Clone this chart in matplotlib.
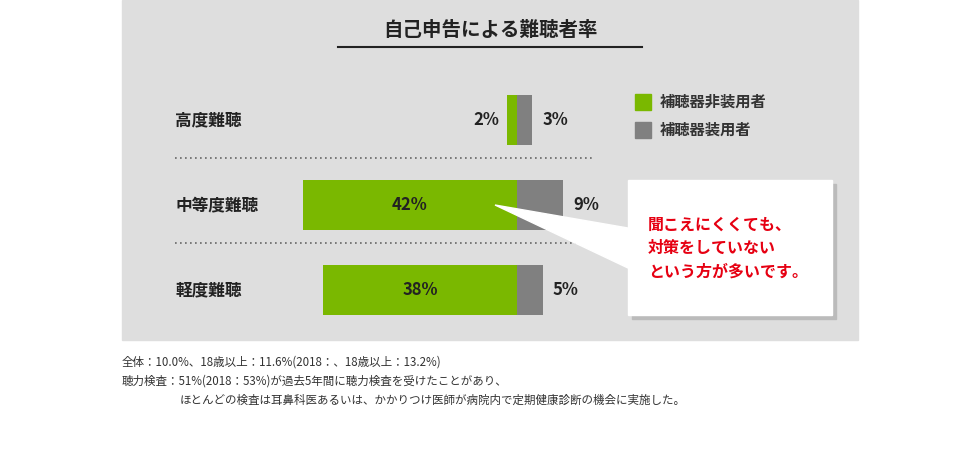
import matplotlib
matplotlib.use("Agg")
import matplotlib.pyplot as plt
from matplotlib.patches import Rectangle, Polygon

plt.rcParams['font.family'] = 'Noto Sans CJK JP'

categories = ["高度難聴", "中等度難聴", "軽度難聴"]
non_users = [2, 42, 38]
users = [3, 9, 5]
legend_labels = ["補聴器非装用者", "補聴器装用者"]
title = "自己申告による難聴者率"
callout = "聞こえにくくても、\n対策をしていない\nという方が多いです。"
notes = ["全体：10.0%、18歳以上：11.6%(2018：、18歳以上：13.2%)",
         "聴力検査：51%(2018：53%)が過去5年間に聴力検査を受けたことがあり、",
         "ほとんどの検査は耳鼻科医あるいは、かかりつけ医師が病院内で定期健康診断の機会に実施した。"]

GREEN = "#7ab800"; GREY = "#808080"; PANEL = "#dedede"; RED = "#e60012"

fig = plt.figure(figsize=(9.8, 4.51), dpi=100)
bg = fig.add_axes([0, 0, 1, 1])
bg.set_xlim(0, 980); bg.set_ylim(451, 0); bg.axis('off')
bg.add_patch(Rectangle((122, 0), 736, 340, color=PANEL, zorder=0))
bg.text(490, 30, title, ha='center', va='center', fontsize=14, fontweight='bold', color='#222222')
bg.plot([338, 642], [47, 47], color='#222222', lw=1.5)
for y in (158, 243):
    bg.plot([175, 595], [y, y], color='#666666', lw=1.2, ls=(0, (1, 2)))
for i, (lab, c) in enumerate(zip(legend_labels, [GREEN, GREY])):
    y = 102 + i * 28
    bg.add_patch(Rectangle((635, y - 8), 16, 16, color=c))
    bg.text(660, y, lab, ha='left', va='center', fontsize=11, fontweight='bold', color='#333333')
bg.text(122, 362, notes[0], ha='left', va='center', fontsize=8.3, color='#333333')
bg.text(122, 381, notes[1], ha='left', va='center', fontsize=8.3, color='#333333')
bg.text(180, 400, notes[2], ha='left', va='center', fontsize=8.3, color='#333333')

ax = fig.add_axes([122/980, 111/451, 736/980, 340/451])
ax.patch.set_alpha(0)
px = 5.1
ax.set_xlim(-(517-122)/px, (858-517)/px)
ax.set_ylim(2 + 50/85, -120/85)
ax.axis('off')
ypos = list(range(len(categories)))
ax.barh(ypos, [-v for v in non_users], height=50/85, color=GREEN, zorder=2)
ax.barh(ypos, users, height=50/85, color=GREY, zorder=2)
for y, cat, n, u in zip(ypos, categories, non_users, users):
    ax.text(-(517-175)/px, y, cat, ha='left', va='center', fontsize=12, fontweight='bold', color='#222222')
    if n < 10:
        ax.text(-n - 1.5, y, f"{n}%", ha='right', va='center', fontsize=12, fontweight='bold', color='#222222')
    else:
        ax.text(-n / 2, y, f"{n}%", ha='center', va='center', fontsize=12, fontweight='bold', color='#222222')
    ax.text(u + 2, y, f"{u}%", ha='left', va='center', fontsize=12, fontweight='bold', color='#222222')

# callout overlay above bars
top = fig.add_axes([0, 0, 1, 1])
top.patch.set_alpha(0)
top.set_xlim(0, 980); top.set_ylim(451, 0); top.axis('off')
top.add_patch(Rectangle((632, 184), 204, 135, color='#bbbbbb', zorder=2))
top.add_patch(Polygon([(495, 205), (628, 228), (628, 268)], closed=True, color='white', zorder=3))
top.add_patch(Rectangle((628, 180), 204, 135, color='white', zorder=3))
top.text(648, 248, callout, ha='left', va='center', fontsize=11.5, fontweight='bold',
         color=RED, linespacing=1.6, zorder=4)

fig.savefig("out.png", dpi=100)
